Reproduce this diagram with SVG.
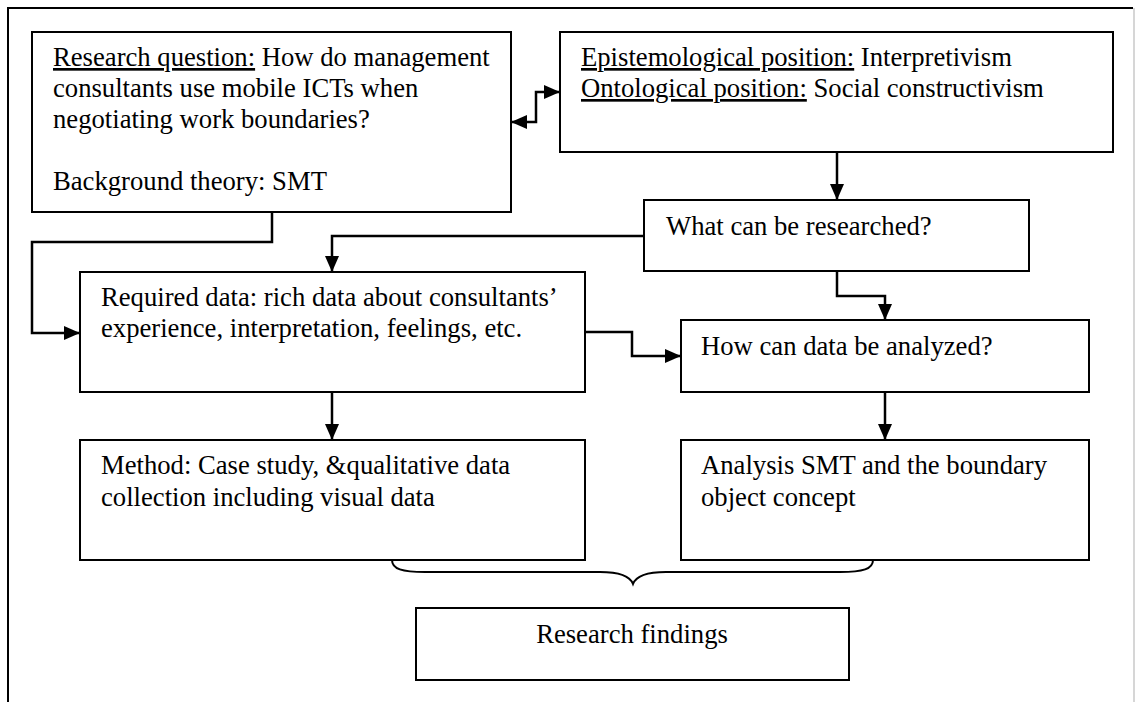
<svg xmlns="http://www.w3.org/2000/svg" width="1136" height="702" viewBox="0 0 1136 702">
  <style>
    .box { fill: #fff; stroke: #000; stroke-width: 2; }
    .lbl { font-family: "Liberation Serif", "Times New Roman", serif; font-size: 26.67px; fill: #000; }
    .u { text-decoration: underline; }
    .wire { fill: none; stroke: #000; stroke-width: 2.5; }
    .brace { fill: none; stroke: #000; stroke-width: 2; }
  </style>
  <defs>
    <marker id="arrow" viewBox="0 0 16 14" refX="16" refY="7" markerWidth="16" markerHeight="14" markerUnits="userSpaceOnUse" orient="auto-start-reverse">
      <path d="M0,0 L16,7 L0,14 z" fill="#000"/>
    </marker>
  </defs>

  <rect width="1136" height="702" fill="#fff"/>

  <!-- outer frame -->
  <g id="frame">
    <path d="M8,702 V8 H1133" fill="none" stroke="#000" stroke-width="2"/>
    <line x1="1134" y1="8" x2="1134" y2="702" stroke="#c8c8c8" stroke-width="1.5"/>
  </g>

  <!-- connectors -->
  <g id="connectors">
    <path class="wire" d="M511,122 H536 V92 H560" marker-start="url(#arrow)" marker-end="url(#arrow)"/>
    <path class="wire" d="M837,152 V200" marker-end="url(#arrow)"/>
    <path class="wire" d="M644,236 H332 V272" marker-end="url(#arrow)"/>
    <path class="wire" d="M272,212 V242 H32 V333 H80" marker-end="url(#arrow)"/>
    <path class="wire" d="M585,332 H632 V356 H681" marker-end="url(#arrow)"/>
    <path class="wire" d="M837,271 V296 H885 V320" marker-end="url(#arrow)"/>
    <path class="wire" d="M332,392 V440" marker-end="url(#arrow)"/>
    <path class="wire" d="M885,392 V440" marker-end="url(#arrow)"/>
    <path class="brace" d="M392,560 C392,569 402,572 425,572 L600,572 C620,572 630,576 633,584 C636,576 646,572 666,572 L840,572 C863,572 873,569 873,560"/>
  </g>

  <g id="research-question">
    <rect class="box" x="32" y="32" width="479" height="180"/>
    <text class="lbl" x="53" y="66"><tspan class="u">Research question:</tspan> How do management</text>
    <text class="lbl" x="53" y="97">consultants use mobile ICTs when</text>
    <text class="lbl" x="53" y="128">negotiating work boundaries?</text>
    <text class="lbl" x="53" y="190">Background theory: SMT</text>
  </g>

  <g id="positions">
    <rect class="box" x="560" y="32" width="553" height="120"/>
    <text class="lbl" x="581" y="66"><tspan class="u">Epistemological position:</tspan> Interpretivism</text>
    <text class="lbl" x="581" y="97"><tspan class="u">Ontological position:</tspan> Social constructivism</text>
  </g>

  <g id="what-researched">
    <rect class="box" x="644" y="200" width="385" height="71"/>
    <text class="lbl" x="666" y="235">What can be researched?</text>
  </g>

  <g id="required-data">
    <rect class="box" x="80" y="272" width="505" height="120"/>
    <text class="lbl" x="101" y="306">Required data: rich data about consultants’</text>
    <text class="lbl" x="101" y="337">experience, interpretation, feelings, etc.</text>
  </g>

  <g id="how-analyzed">
    <rect class="box" x="681" y="320" width="408" height="72"/>
    <text class="lbl" x="701" y="355">How can data be analyzed?</text>
  </g>

  <g id="method">
    <rect class="box" x="80" y="440" width="505" height="120"/>
    <text class="lbl" x="101" y="474">Method: Case study, &amp;qualitative data</text>
    <text class="lbl" x="101" y="506">collection including visual data</text>
  </g>

  <g id="analysis">
    <rect class="box" x="681" y="440" width="408" height="120"/>
    <text class="lbl" x="701" y="474">Analysis SMT and the boundary</text>
    <text class="lbl" x="701" y="506">object concept</text>
  </g>

  <g id="findings">
    <rect class="box" x="416" y="608" width="433" height="72"/>
    <text class="lbl" x="632" y="643" text-anchor="middle">Research findings</text>
  </g>
</svg>
